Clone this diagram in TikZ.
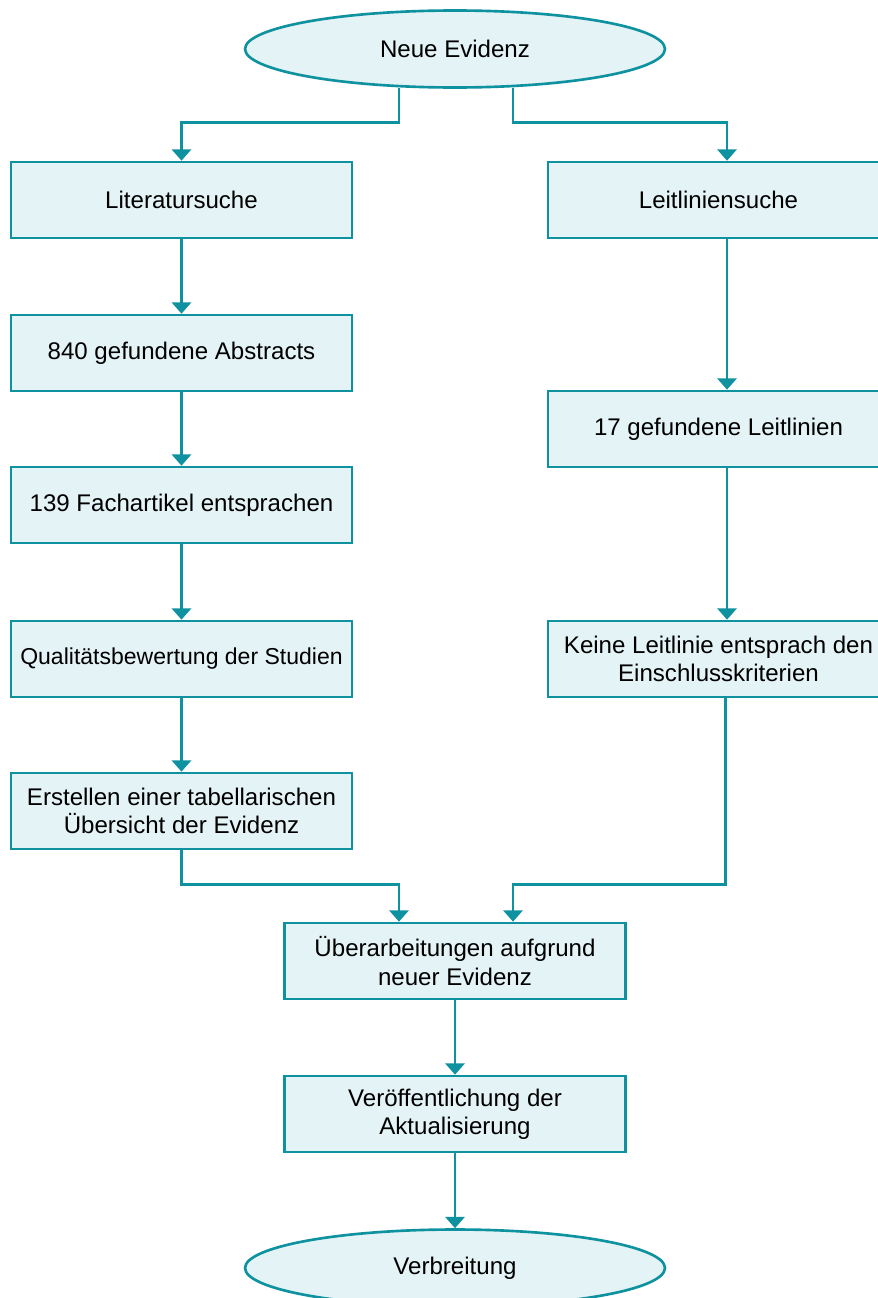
\documentclass[tikz,border=0pt]{standalone}
\usepackage{fontspec}
\setmainfont{Liberation Sans}
\usetikzlibrary{arrows.meta,calc,shapes.geometric}
\definecolor{rand}{HTML}{0E929F}
\definecolor{flaeche}{HTML}{E4F3F5}
\tikzset{
  kasten/.style={draw=rand,fill=flaeche,line width=1.5pt,minimum width=6.82cm,
    minimum height=1.52cm,align=center,inner sep=2pt,
    font=\fontsize{13.7}{16}\selectfont},
  oval/.style={kasten,ellipse,minimum width=8.4cm,minimum height=1.54cm},
  pfeil/.style={rand,line width=1.5pt,-{Triangle[width=11pt,length=6.5pt]}}
}
\begin{document}
\begin{tikzpicture}[x=0.02cm,y=-0.02cm]
\useasboundingbox (0,0) rectangle (878,1298);
% Start und Ende
\node[oval] (neu) at (455,49) {Neue Evidenz};
\node[oval] (verbr) at (455,1268) {Verbreitung};
% linke Spalte
\node[kasten] (lit) at (181.5,200) {Literatursuche};
\node[kasten] (abs) at (181.5,353) {840 gefundene Abstracts};
\node[kasten] (fach) at (181.5,505) {139 Fachartikel entsprachen};
\node[kasten,font=\fontsize{13.1}{16}\selectfont] (qual) at (181.5,659) {Qualitätsbewertung der Studien};
\node[kasten] (erst) at (181.5,811) {Erstellen einer tabellarischen\\Übersicht der Evidenz};
% rechte Spalte
\node[kasten] (leit) at (718.5,200) {Leitliniensuche};
\node[kasten] (gef) at (718.5,429) {17 gefundene Leitlinien};
\node[kasten] (keine) at (718.5,659) {Keine Leitlinie entsprach den\\Einschlusskriterien};
% Zusammenführung
\node[kasten] (ueber) at (455,961) {Überarbeitungen aufgrund\\neuer Evidenz};
\node[kasten] (verp) at (455,1114) {Veröffentlichung der\\Aktualisierung};
% Verbindungen
\draw[pfeil] ($(neu.south)+(-56,-1)$) |- ($(lit.north)+(0,-38)$) -- (lit.north);
\draw[pfeil] ($(neu.south)+(58,-1)$) |- ($(leit.north)+(8.5,-38)$) -- ($(leit.north)+(8.5,0)$);
\draw[pfeil] (lit) -- (abs);
\draw[pfeil] (abs) -- (fach);
\draw[pfeil] (fach) -- (qual);
\draw[pfeil] (qual) -- (erst);
\draw[pfeil] ($(leit.south)+(8.5,0)$) -- ($(gef.north)+(8.5,0)$);
\draw[pfeil] ($(gef.south)+(8.5,0)$) -- ($(keine.north)+(8.5,0)$);
\draw[pfeil] (erst.south) |- ($(ueber.north)+(-56,-37)$) -- ($(ueber.north)+(-56,0)$);
\draw[pfeil] ($(keine.south)+(7,0)$) |- ($(ueber.north)+(58,-37)$) -- ($(ueber.north)+(58,0)$);
\draw[pfeil] (ueber) -- (verp);
\draw[pfeil] (verp) -- (verbr);
\end{tikzpicture}
\end{document}
